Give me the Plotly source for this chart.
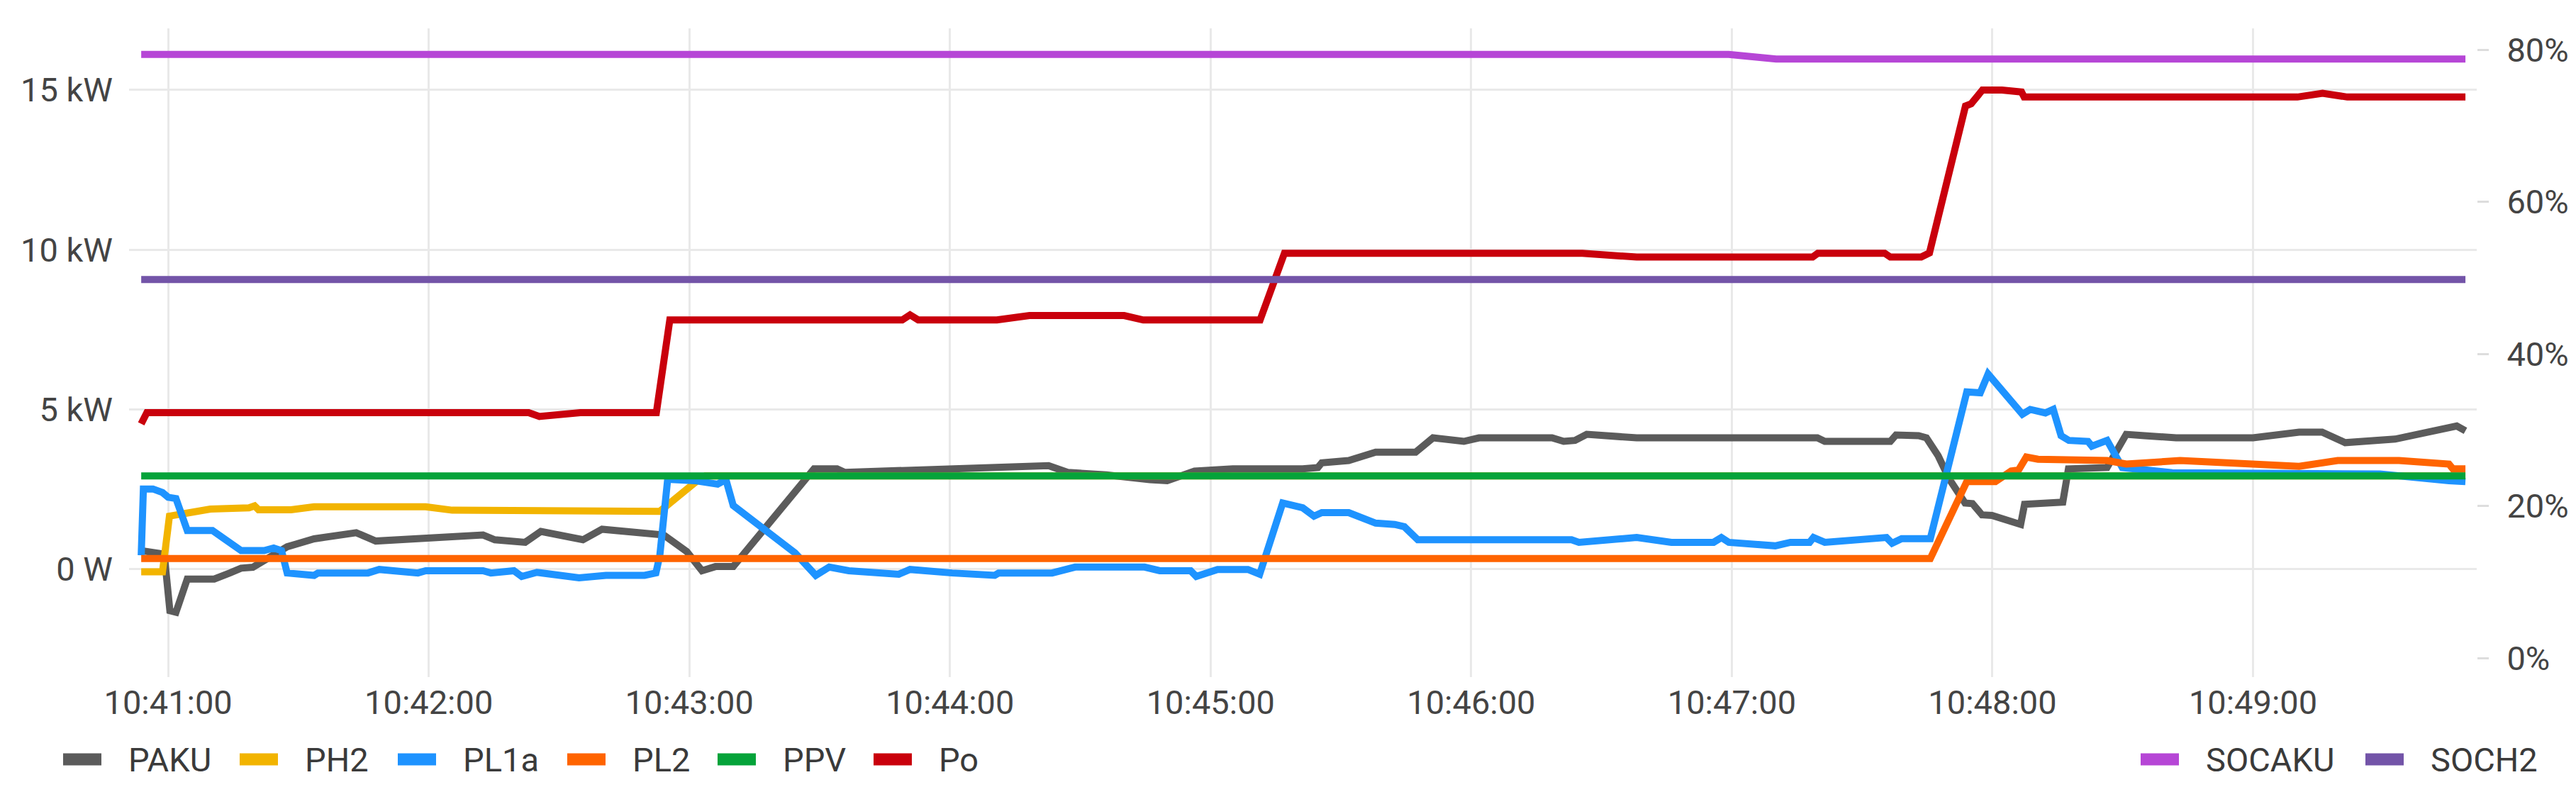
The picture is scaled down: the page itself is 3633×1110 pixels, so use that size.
import plotly.graph_objects as go
import pandas as pd

T0 = pd.Timestamp("2023-01-01 10:41:00")

# seconds relative to 10:41:00, values in kW (power) / % (SOC)
t_paku = [-6.2, -0.9, 0.4, 1.8, 4.4, 10.6, 14.2, 16.8, 19.5, 27.4, 33.6, 41.6, 43.3, 47.8, 56.6,
          67.2, 72.5, 75.2, 82.2, 85.8, 95.5, 99.9, 110.6, 114.1, 119.4, 122.9, 126.0, 130.1,
          148.7, 154.0, 155.8, 167.3, 187.6, 200.9, 202.7, 207.1, 216.0, 226.0, 230.0, 236.3,
          245.1, 261.2, 264.7, 265.6, 271.8, 278.0, 287.2, 291.2, 298.3, 301.8, 318.6, 321.3,
          323.9, 326.6, 338.1, 379.7, 381.4, 396.5, 397.8, 403.0, 404.8, 407.5, 410.1, 413.7,
          415.4, 417.6, 419.9, 426.5, 427.4, 436.2, 437.5, 446.4, 450.8, 455.0, 462.3, 480.0,
          490.6, 495.9, 501.2, 512.7, 524.2, 526.9, 528.9]
v_paku = [0.58, 0.47, -1.30, -1.35, -0.31, -0.31, -0.12, 0.03, 0.06, 0.70, 0.95, 1.14, 1.14, 0.88, 0.95,
          0.99, 1.07, 0.92, 0.84, 1.18, 0.92, 1.25, 1.14, 1.07, 0.55, -0.05, 0.08, 0.08,
          3.14, 3.14, 3.03, 3.07, 3.14, 3.18, 3.24, 3.03, 2.95, 2.80, 2.77, 3.07,
          3.14, 3.14, 3.18, 3.33, 3.40, 3.66, 3.66, 4.11, 4.00, 4.11, 4.11, 4.00,
          4.03, 4.22, 4.11, 4.11, 4.00, 4.00, 4.20, 4.18, 4.11, 3.55, 2.81, 2.07,
          2.05, 1.70, 1.68, 1.40, 2.03, 2.10, 3.14, 3.18, 4.22, 4.18, 4.11, 4.11,
          4.29, 4.29, 3.96, 4.07, 4.44, 4.48, 4.33]

t_ph2 = [-6.2, -1.3, 0.3, 1.8, 9.7, 18.6, 19.9, 20.8, 28.3, 33.6, 59.3, 65.4, 113.2, 121.2, 123.7, 528.9]
v_ph2 = [-0.085, -0.085, 1.66, 1.70, 1.88, 1.92, 1.98, 1.86, 1.86, 1.95, 1.95, 1.845, 1.81, 2.70, 2.92, 2.92]

t_pl1a = [-6.2, -5.7, -3.5, -1.3, 0.0, 1.8, 4.4, 10.2, 16.8, 22.1, 24.3, 26.1, 27.4, 33.6, 34.5,
          46.0, 48.6, 57.5, 59.3, 72.5, 74.3, 79.6, 81.4, 84.9, 94.6, 100.8, 109.7, 112.3, 113.2,
          115.0, 121.2, 126.5, 128.4, 130.1, 144.3, 149.1, 152.2, 156.7, 168.2, 170.8, 180.5,
          190.3, 191.2, 203.5, 208.8, 224.8, 228.3, 235.4, 236.7, 241.6, 248.6, 251.3, 256.6,
          261.2, 263.8, 265.6, 271.8, 278.0, 282.4, 284.6, 287.7, 323.1, 324.8, 338.1, 346.1,
          355.8, 357.6, 359.3, 370.0, 373.5, 377.9, 378.8, 381.4, 395.6, 396.9, 399.1, 405.7,
          414.1, 417.2, 419.0, 426.9, 428.7, 432.2, 434.0, 435.8, 437.6, 442.0, 442.9, 446.4,
          449.9, 461.4, 509.2, 525.1, 528.9]
v_pl1a = [0.435, 2.51, 2.51, 2.40, 2.25, 2.21, 1.21, 1.21, 0.58, 0.58, 0.66, 0.58, -0.12, -0.195, -0.12,
          -0.12, -0.01, -0.12, -0.05, -0.05, -0.12, -0.05, -0.23, -0.10, -0.27, -0.195, -0.195, -0.12, 0.43,
          2.81, 2.77, 2.66, 2.81, 1.99, 0.51, -0.195, 0.065, -0.05, -0.16, -0.01, -0.12,
          -0.195, -0.12, -0.12, 0.065, 0.065, -0.05, -0.05, -0.23, -0.01, -0.01, -0.16, 2.07,
          1.92, 1.66, 1.77, 1.77, 1.44, 1.40, 1.33, 0.92, 0.92, 0.84, 0.99, 0.84,
          0.84, 0.99, 0.84, 0.73, 0.84, 0.84, 0.99, 0.84, 0.99, 0.81, 0.955, 0.955,
          5.55, 5.52, 6.11, 4.85, 5.00, 4.89, 5.00, 4.18, 4.03, 4.00, 3.85, 4.03,
          3.18, 3.02, 2.98, 2.77, 2.74]

t_pl2 = [-6.2, 405.7, 414.1, 420.7, 424.3, 426.0, 427.8, 430.5, 446.4, 450.8, 463.2, 490.6, 499.5,
         513.6, 525.1, 526.0, 528.9]
v_pl2 = [0.33, 0.33, 2.74, 2.74, 3.07, 3.10, 3.51, 3.44, 3.40, 3.29, 3.40, 3.22, 3.40,
         3.40, 3.29, 3.14, 3.14]

t_ppv = [-6.2, 528.9]
v_ppv = [2.92, 2.92]

t_po = [-6.2, -4.9, 83.0, 85.5, 94.9, 112.4, 115.5, 169.0, 170.8, 172.7, 190.8, 198.3, 220.1, 224.5,
        251.4, 257.0, 325.6, 338.1, 378.6, 379.8, 395.2, 396.5, 403.6, 405.5, 413.8, 415.1, 417.7,
        422.2, 426.7, 427.3, 490.2, 496.0, 501.7, 528.9]
v_po = [4.55, 4.90, 4.90, 4.78, 4.90, 4.90, 7.80, 7.80, 7.96, 7.80, 7.80, 7.94, 7.94, 7.80,
        7.80, 9.89, 9.89, 9.77, 9.77, 9.89, 9.89, 9.77, 9.77, 9.90, 14.50, 14.57, 15.00,
        15.00, 14.94, 14.78, 14.78, 14.90, 14.78, 14.78]

t_socaku = [-6.2, 359.3, 370.2, 528.9]
v_socaku = [79.4, 79.4, 78.8, 78.8]

t_soch2 = [-6.2, 528.9]
v_soch2 = [49.8, 49.8]

power_ticks = [0, 5, 10, 15]
power_labels = ["0 W", "5 kW", "10 kW", "15 kW"]
soc_ticks = [0, 20, 40, 60, 80]
soc_labels = ["0%", "20%", "40%", "60%", "80%"]

power = [
    ("PAKU", t_paku, v_paku, "#5b5b5b"),
    ("PH2", t_ph2, v_ph2, "#f2b400"),
    ("PL1a", t_pl1a, v_pl1a, "#1e93ff"),
    ("PL2", t_pl2, v_pl2, "#ff6400"),
    ("PPV", t_ppv, v_ppv, "#05a33a"),
    ("Po", t_po, v_po, "#c9000c"),
]
soc = [
    ("SOCAKU", t_socaku, v_socaku, "#b646d6"),
    ("SOCH2", t_soch2, v_soch2, "#7354a8"),
]

# legend layout (pixel positions of the swatches in the 3633 px wide page)
W, H = 3633, 1110
ML, MR, MT, MB = 174, 148, 32, 163
legend_x = [81, 330, 553, 792, 1004, 1224, 3011, 3328]
legend_y = 1063


def to_time(ts):
    return T0 + pd.to_timedelta(ts, unit="s")


fig = go.Figure()
for name, t, v, col in power:
    fig.add_trace(go.Scatter(x=to_time(t), y=v, name=name, mode="lines",
                             line=dict(color=col, width=10), showlegend=False))
for name, t, v, col in soc:
    fig.add_trace(go.Scatter(x=to_time(t), y=v, name=name, mode="lines", yaxis="y2",
                             line=dict(color=col, width=10), showlegend=False))

# hand-made legend: swatch + label, left group for kW series, right group for SOC
pw, ph = W - ML - MR, H - MT - MB
yc = (H - MB - legend_y) / ph
for (name, _, _, col), px in zip(power + soc, legend_x):
    x0 = (px - ML) / pw
    x1 = (px + 54 - ML) / pw
    fig.add_shape(type="rect", xref="paper", yref="paper", x0=x0, x1=x1,
                  y0=yc - 8.5 / ph, y1=yc + 8.5 / ph, fillcolor=col, line_width=0)
    fig.add_annotation(xref="paper", yref="paper", x=(px + 90 - ML) / pw, y=yc,
                       text=name, showarrow=False, xanchor="left", yanchor="middle",
                       font=dict(family="Roboto", size=47, color="#3a3a3a"))

font = dict(family="Roboto", size=47, color="#444444")
grid = "#e9e9e9"

fig.update_layout(
    width=W, height=H,
    margin=dict(l=ML, r=MR, t=MT, b=MB),
    plot_bgcolor="white", paper_bgcolor="white",
    font=font,
    showlegend=False,
    xaxis=dict(range=[T0 - pd.Timedelta(seconds=9), T0 + pd.Timedelta(seconds=531.5)],
               tick0=T0, dtick=60000, tickformat="%H:%M:%S",
               showgrid=True, gridcolor=grid, gridwidth=3, zeroline=False,
               showline=False, ticks="", ticklabelstandoff=4),
    yaxis=dict(range=[-3.38, 16.93], tickvals=power_ticks, ticktext=power_labels,
               showgrid=True, gridcolor=grid, gridwidth=3, zeroline=False,
               showline=False, ticks="", ticklabelstandoff=22),
    yaxis2=dict(range=[-2.5, 82.83], tickvals=soc_ticks, ticktext=soc_labels,
                overlaying="y", side="right", showgrid=False, zeroline=False,
                showline=False, ticks="outside", ticklen=16, tickwidth=3, tickcolor="#dddddd",
                ticklabelstandoff=16),
)

fig.write_html("out.html")
